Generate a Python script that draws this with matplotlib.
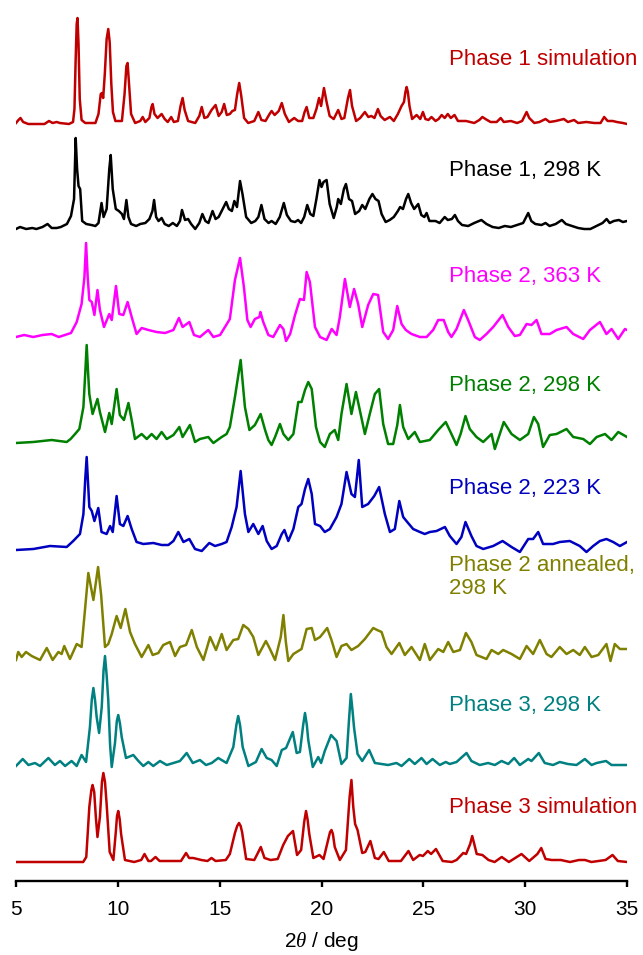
import matplotlib.pyplot as plt

plt.rcParams['font.family'] = ['Liberation Sans', 'DejaVu Sans']
plt.rcParams['mathtext.fontset'] = 'custom'
plt.rcParams['mathtext.rm'] = 'Liberation Sans'
plt.rcParams['mathtext.it'] = 'Liberation Serif:italic'

# Powder patterns: (2theta in deg, intensity in a.u.), baseline at 0
phase1_sim = [
    (5.0, 1), (5.12, 4), (5.22, 6), (5.35, 2), (5.6, 0), (6.4, 0), (6.62, 3), (6.8, 1),
    (7.0, 2), (7.15, 1), (7.6, 0), (7.8, 2), (7.87, 15), (7.93, 65), (7.98, 100),
    (8.02, 106), (8.07, 80), (8.13, 25), (8.22, 4), (8.4, 1), (8.9, 1), (9.05, 10),
    (9.16, 30), (9.22, 31), (9.28, 26), (9.36, 50), (9.45, 85), (9.53, 95), (9.6, 82),
    (9.68, 40), (9.76, 12), (9.88, 3), (10.2, 3), (10.33, 30), (10.42, 58), (10.48, 61),
    (10.55, 40), (10.65, 10), (10.85, 1), (11.1, 3), (11.22, 7), (11.35, 2), (11.55, 6),
    (11.65, 17), (11.71, 20), (11.8, 10), (11.95, 6), (12.15, 10), (12.3, 5), (12.45, 2),
    (12.62, 7), (12.75, 2), (12.95, 3), (13.08, 18), (13.18, 26), (13.28, 14), (13.45, 3),
    (13.8, 1), (14.0, 8), (14.12, 17), (14.25, 6), (14.4, 7), (14.6, 14), (14.8, 19),
    (14.95, 8), (15.1, 12), (15.22, 20), (15.35, 9), (15.5, 10), (15.62, 13), (15.75, 14),
    (15.86, 30), (15.96, 41), (16.06, 28), (16.2, 6), (16.4, 1), (16.7, 3), (16.9, 12),
    (17.05, 4), (17.25, 3), (17.45, 10), (17.55, 13), (17.7, 9), (17.9, 13), (18.05, 21),
    (18.2, 10), (18.4, 2), (18.66, 6), (18.85, 3), (19.05, 3), (19.17, 12), (19.27, 17),
    (19.4, 6), (19.6, 6), (19.75, 15), (19.88, 26), (19.98, 18), (20.12, 36),
    (20.25, 22), (20.4, 8), (20.6, 5), (20.82, 14), (20.98, 5), (21.12, 6), (21.3, 26),
    (21.4, 34), (21.5, 18), (21.7, 3), (21.9, 6), (22.13, 12), (22.3, 7), (22.45, 8),
    (22.6, 6), (22.77, 15), (22.9, 8), (23.1, 4), (23.36, 7), (23.55, 3), (23.75, 10),
    (23.93, 18), (24.05, 22), (24.12, 32), (24.18, 37), (24.24, 32), (24.32, 18),
    (24.45, 5), (24.67, 9), (24.85, 5), (24.98, 12), (25.1, 5), (25.25, 4), (25.4, 7),
    (25.6, 3), (25.75, 5), (25.9, 9), (26.05, 6), (26.2, 10), (26.35, 6), (26.53, 9),
    (26.7, 3), (27.1, 3), (27.5, 1), (27.75, 4), (27.9, 7), (28.05, 5), (28.3, 2),
    (28.6, 2), (28.8, 6), (28.95, 2), (29.3, 3), (29.6, 1), (29.85, 3), (30.0, 9),
    (30.07, 12), (30.2, 6), (30.45, 1), (30.7, 2), (31.0, 5), (31.2, 2), (31.5, 3),
    (31.9, 5), (32.1, 2), (32.4, 4), (32.6, 1), (33.0, 2), (33.4, 1), (33.7, 1),
    (33.88, 7), (34.05, 3), (34.3, 3), (34.5, 2), (34.8, 1), (35.0, 0),
]

phase1_298 = [
    (5.0, 0), (5.2, 2), (5.5, 0), (5.8, 1), (6.0, 0), (6.3, 2), (6.55, 5), (6.75, 1),
    (7.0, 1), (7.2, 2), (7.5, 5), (7.7, 13), (7.85, 30), (7.93, 91), (8.0, 60),
    (8.07, 43), (8.15, 40), (8.25, 8), (8.45, 5), (8.7, 4), (8.9, 3), (9.05, 6),
    (9.2, 26), (9.3, 12), (9.45, 20), (9.58, 60), (9.65, 74), (9.75, 40), (9.9, 20),
    (10.05, 18), (10.2, 15), (10.3, 10), (10.42, 29), (10.52, 12), (10.65, 5), (10.9, 3),
    (11.1, 5), (11.35, 6), (11.55, 10), (11.7, 18), (11.78, 29), (11.88, 12), (12.0, 8),
    (12.15, 11), (12.3, 5), (12.5, 3), (12.7, 6), (12.9, 3), (13.05, 8), (13.15, 19),
    (13.3, 9), (13.45, 10), (13.6, 5), (13.8, 0), (14.0, 6), (14.15, 15), (14.3, 8),
    (14.45, 6), (14.65, 18), (14.8, 10), (14.95, 12), (15.2, 22), (15.32, 27),
    (15.45, 20), (15.6, 18), (15.72, 28), (15.85, 22), (16.0, 48), (16.12, 35),
    (16.3, 12), (16.55, 6), (16.75, 8), (16.9, 12), (17.05, 24), (17.2, 10), (17.4, 6),
    (17.55, 8), (17.75, 5), (17.95, 12), (18.15, 26), (18.3, 14), (18.5, 8), (18.7, 7),
    (18.85, 9), (19.0, 6), (19.15, 12), (19.3, 24), (19.45, 15), (19.6, 13), (19.75, 30),
    (19.9, 49), (20.0, 42), (20.1, 47), (20.25, 49), (20.4, 25), (20.6, 11), (20.75, 22),
    (20.82, 30), (20.95, 25), (21.1, 40), (21.2, 45), (21.35, 30), (21.5, 28),
    (21.65, 15), (21.85, 18), (22.0, 24), (22.15, 20), (22.35, 30), (22.5, 35),
    (22.65, 30), (22.8, 28), (22.95, 15), (23.15, 7), (23.35, 9), (23.55, 12),
    (23.75, 18), (23.86, 22), (24.0, 20), (24.15, 30), (24.26, 35), (24.4, 26),
    (24.55, 20), (24.75, 25), (24.9, 14), (25.05, 12), (25.16, 16), (25.3, 8), (25.6, 8),
    (25.8, 6), (26.05, 12), (26.2, 9), (26.4, 10), (26.55, 14), (26.7, 8), (26.9, 4),
    (27.2, 3), (27.5, 6), (27.85, 9), (28.1, 5), (28.4, 2), (28.7, 1), (29.0, 3),
    (29.3, 2), (29.6, 4), (29.9, 6), (30.05, 12), (30.15, 16), (30.3, 8), (30.5, 5),
    (30.8, 4), (31.0, 6), (31.2, 3), (31.5, 5), (31.8, 9), (32.0, 5), (32.3, 3),
    (32.6, 1), (32.9, 0), (33.2, 0), (33.5, 3), (33.8, 6), (34.0, 10), (34.15, 6),
    (34.35, 8), (34.6, 9), (34.8, 7), (35.0, 8),
]

phase2_363 = [
    (5.0, 0), (5.4, 2), (5.85, 0), (6.3, 2), (6.75, 3), (7.1, 0), (7.4, 2), (7.7, 4),
    (7.98, 15), (8.22, 33), (8.36, 60), (8.44, 94), (8.52, 60), (8.6, 37), (8.72, 35),
    (8.85, 22), (9.0, 47), (9.12, 27), (9.32, 10), (9.58, 23), (9.7, 17), (9.91, 51),
    (10.07, 23), (10.27, 22), (10.48, 35), (10.68, 20), (10.92, 3), (11.17, 9),
    (11.5, 7), (11.9, 5), (12.32, 4), (12.73, 7), (13.0, 19), (13.18, 10), (13.51, 15),
    (13.74, 2), (14.03, 0), (14.44, 7), (14.69, 0), (15.02, 2), (15.26, 10), (15.5, 18),
    (15.75, 57), (16.0, 79), (16.19, 50), (16.36, 17), (16.52, 10), (16.73, 18),
    (16.95, 20), (17.0, 25), (17.14, 15), (17.39, 2), (17.63, 0), (17.96, 12),
    (18.13, 8), (18.26, -4), (18.46, 3), (18.7, 22), (18.94, 38), (19.14, 37),
    (19.27, 65), (19.43, 55), (19.68, 10), (19.93, 0), (20.25, -3), (20.5, 8),
    (20.74, 2), (20.9, 20), (21.15, 58), (21.39, 30), (21.6, 48), (21.8, 33), (22.0, 10),
    (22.29, 32), (22.54, 43), (22.78, 42), (23.03, 5), (23.27, -2), (23.52, 7),
    (23.72, 31), (23.93, 13), (24.14, 7), (24.42, 3), (24.83, 0), (25.16, 0), (25.48, 7),
    (25.73, 17), (26.0, 17), (26.22, 5), (26.38, 0), (26.63, 8), (26.99, 27), (27.2, 17),
    (27.53, 0), (27.77, -3), (28.1, 3), (28.43, 10), (28.89, 22), (29.17, 10),
    (29.49, 1), (29.74, 2), (30.07, 13), (30.31, 12), (30.56, 17), (30.8, 3), (31.21, 3),
    (31.54, 7), (32.03, 10), (32.36, 3), (32.85, -2), (33.18, 7), (33.67, 15),
    (33.99, 3), (34.24, 8), (34.57, -2), (34.9, 8), (35.0, 7),
]

phase2_298 = [
    (5.0, 0), (5.85, 1), (6.75, 3), (7.49, 1), (7.68, 4), (7.9, 9), (8.11, 14),
    (8.31, 36), (8.4, 70), (8.47, 98), (8.54, 70), (8.6, 49), (8.76, 29), (9.0, 44),
    (9.12, 31), (9.37, 11), (9.58, 30), (9.7, 19), (9.94, 54), (10.1, 28), (10.3, 23),
    (10.52, 40), (10.68, 23), (10.84, 4), (11.17, 9), (11.42, 4), (11.66, 9), (11.9, 4),
    (12.15, 11), (12.4, 4), (12.73, 8), (13.02, 16), (13.18, 6), (13.54, 18), (13.79, 1),
    (14.03, 4), (14.44, 6), (14.69, 0), (15.1, 6), (15.34, 9), (15.5, 16), (15.75, 46),
    (16.03, 83), (16.24, 36), (16.46, 13), (16.73, 18), (17.01, 29), (17.23, 13),
    (17.39, 3), (17.55, -2), (17.72, 6), (17.96, 19), (18.13, 9), (18.37, 3), (18.62, 9),
    (18.86, 41), (19.02, 41), (19.19, 53), (19.35, 61), (19.52, 54), (19.73, 16),
    (19.93, 1), (20.16, -4), (20.41, 9), (20.65, 13), (20.82, 3), (20.98, 29),
    (21.23, 59), (21.47, 29), (21.69, 51), (21.88, 33), (22.13, 9), (22.37, 29),
    (22.62, 49), (22.83, 54), (23.03, 19), (23.27, -1), (23.52, -1), (23.72, 18),
    (23.85, 38), (24.01, 16), (24.26, 4), (24.58, 11), (24.83, 1), (25.32, 3),
    (25.73, 13), (26.1, 21), (26.38, 9), (26.63, -2), (26.83, 9), (27.07, 27),
    (27.28, 14), (27.61, 6), (27.94, 1), (28.35, 9), (28.51, -6), (28.95, 21),
    (29.33, 9), (29.74, 3), (30.15, 9), (30.43, 26), (30.64, 19), (30.88, -4),
    (31.21, 8), (31.54, 9), (32.03, 14), (32.36, 6), (32.85, 4), (33.18, -1), (33.51, 6),
    (33.92, 9), (34.24, 3), (34.57, 11), (35.0, 6),
]

phase2_223 = [
    (5.0, -1), (5.85, 0), (6.67, 3), (7.49, 2), (7.81, 8), (8.14, 15), (8.31, 35),
    (8.4, 70), (8.47, 92), (8.54, 65), (8.6, 42), (8.72, 38), (8.85, 28), (9.04, 41),
    (9.2, 17), (9.45, 15), (9.62, 23), (9.75, 17), (9.94, 53), (10.1, 25), (10.27, 23),
    (10.48, 33), (10.68, 20), (10.92, 7), (11.25, 5), (11.74, 6), (12.15, 4), (12.48, 4),
    (12.73, 8), (12.97, 17), (13.22, 7), (13.51, 10), (13.79, 0), (14.12, -2),
    (14.49, 6), (14.77, 3), (15.1, 5), (15.34, 7), (15.59, 22), (15.83, 42), (16.03, 78),
    (16.24, 35), (16.41, 17), (16.65, 25), (16.9, 15), (17.11, 23), (17.31, 8),
    (17.55, 0), (17.8, 3), (18.05, 15), (18.18, 19), (18.37, 8), (18.62, 20),
    (18.86, 42), (19.02, 45), (19.19, 60), (19.35, 70), (19.52, 55), (19.68, 25),
    (19.93, 23), (20.16, 17), (20.41, 20), (20.74, 32), (20.98, 45), (21.23, 77),
    (21.47, 55), (21.64, 52), (21.83, 89), (22.0, 42), (22.29, 45), (22.59, 53),
    (22.83, 62), (23.11, 35), (23.36, 17), (23.6, 20), (23.82, 48), (24.01, 32),
    (24.21, 27), (24.5, 20), (24.83, 17), (25.07, 15), (25.32, 17), (25.65, 18),
    (26.06, 22), (26.3, 13), (26.63, 5), (26.87, 12), (27.07, 27), (27.36, 13),
    (27.61, 3), (27.94, 0), (28.43, 3), (28.89, 8), (29.33, 2), (29.74, -3), (30.15, 10),
    (30.39, 10), (30.64, 17), (30.88, 5), (31.37, 5), (31.7, 7), (32.19, 8), (32.68, 3),
    (33.01, -3), (33.34, 3), (33.67, 8), (33.99, 10), (34.32, 7), (34.65, 3), (35.0, 7),
]

phase2_annealed = [
    (5.0, -3), (5.11, 5), (5.28, 0), (5.49, 5), (5.77, 1), (6.18, -3), (6.51, 9),
    (6.8, -3), (7.08, 5), (7.24, 3), (7.37, 11), (7.65, -2), (7.98, 13), (8.22, 10),
    (8.4, 50), (8.55, 84), (8.8, 57), (9.03, 90), (9.18, 62), (9.37, 10), (9.53, 13),
    (9.7, 23), (9.94, 41), (10.14, 29), (10.37, 48), (10.6, 25), (10.84, 13), (11.17, 0),
    (11.5, 12), (11.71, 2), (11.99, 4), (12.23, 12), (12.56, 15), (12.81, 1), (13.05, 10),
    (13.35, 12), (13.63, 27), (13.88, 10), (14.2, -3), (14.53, 20), (14.82, 7),
    (15.1, 23), (15.34, 7), (15.67, 17), (15.91, 18), (16.16, 32), (16.41, 28),
    (16.65, 20), (16.9, 2), (17.27, 16), (17.47, 8), (17.72, -3), (18.0, 20), (18.13, 42),
    (18.25, 15), (18.37, -4), (18.62, 3), (19.02, 8), (19.27, 28), (19.52, 29),
    (19.68, 17), (19.93, 20), (20.28, 29), (20.49, 17), (20.74, 0), (20.98, 11),
    (21.23, 13), (21.47, 7), (21.8, 11), (22.13, 18), (22.54, 29), (22.73, 27),
    (22.95, 25), (23.19, 10), (23.44, 3), (23.82, 14), (24.09, 2), (24.42, 10),
    (24.83, -3), (25.07, 13), (25.32, -3), (25.73, 8), (25.98, 5), (26.22, 15),
    (26.47, 5), (26.8, 7), (27.09, 24), (27.36, 15), (27.61, 2), (27.86, 0), (28.1, -2),
    (28.35, 7), (28.68, 3), (28.92, 7), (29.33, 3), (29.74, -2), (30.07, 11), (30.39, 3),
    (30.72, 17), (31.05, 3), (31.29, 0), (31.7, 10), (32.03, 3), (32.36, 7), (32.68, 2),
    (32.93, 10), (33.26, 0), (33.59, 2), (33.99, 13), (34.19, -4), (34.4, 13),
    (34.65, 8), (35.0, 8),
]

phase3_298 = [
    (5.0, -1), (5.33, 6), (5.61, 0), (5.93, 2), (6.18, -1), (6.59, 7), (6.91, 0),
    (7.16, 4), (7.41, -1), (7.73, 4), (7.98, -1), (8.22, 10), (8.44, 3), (8.63, 38),
    (8.72, 65), (8.8, 77), (8.88, 65), (8.96, 48), (9.08, 32), (9.21, 58), (9.3, 95),
    (9.37, 109), (9.45, 90), (9.53, 65), (9.62, 20), (9.7, -2), (9.86, 22), (9.95, 44),
    (10.02, 50), (10.1, 42), (10.19, 28), (10.4, 7), (10.76, 10), (11.01, 4), (11.25, -1),
    (11.5, 3), (11.74, -1), (12.07, 4), (12.4, 0), (12.73, 2), (13.05, 4), (13.38, 12),
    (13.68, 2), (14.03, 5), (14.33, 0), (14.61, 2), (14.93, 7), (15.34, 2), (15.67, 18),
    (15.82, 40), (15.91, 49), (16.0, 40), (16.13, 18), (16.41, -1), (16.78, 3),
    (17.06, 16), (17.31, 7), (17.55, 5), (17.8, -1), (18.05, 15), (18.26, 17),
    (18.59, 33), (18.78, 12), (18.94, 13), (19.1, 40), (19.19, 52), (19.28, 40),
    (19.35, 25), (19.57, -2), (19.84, 8), (19.98, 2), (20.16, 14), (20.47, 30),
    (20.74, 24), (20.98, 1), (21.23, 7), (21.35, 45), (21.44, 71), (21.52, 55),
    (21.6, 37), (21.77, 11), (22.0, 4), (22.34, 15), (22.62, 2), (22.95, 1), (23.27, 0),
    (23.68, 2), (23.93, -1), (24.31, 6), (24.58, 1), (24.91, 7), (25.16, 1), (25.45, 6),
    (25.81, 0), (26.1, 3), (26.3, 1), (26.63, 3), (27.12, 12), (27.36, 4), (27.77, 0),
    (28.18, 2), (28.51, 0), (28.84, 4), (29.17, 1), (29.46, 7), (29.74, 0), (30.15, 6),
    (30.31, 4), (30.67, 12), (30.96, 2), (31.37, 0), (31.7, 3), (32.1, 1), (32.52, 0),
    (32.93, 6), (33.26, 0), (33.51, 2), (33.97, 4), (34.24, 0), (34.65, 0), (35.0, 0),
]

phase3_sim = [
    (5.0, 0), (8.3, 0), (8.45, 5), (8.6, 55), (8.7, 72), (8.76, 77), (8.84, 70),
    (8.92, 45), (9.0, 25), (9.12, 45), (9.22, 80), (9.29, 89), (9.37, 80), (9.45, 58),
    (9.6, 10), (9.78, 2), (9.9, 30), (9.96, 46), (10.02, 51), (10.09, 43), (10.16, 28),
    (10.35, 2), (10.8, 0), (11.15, 2), (11.31, 8), (11.5, 1), (11.63, 1), (11.85, 5),
    (12.05, 1), (12.5, 1), (13.1, 1), (13.35, 9), (13.5, 4), (13.7, 4), (14.1, 2),
    (14.4, 1), (14.6, 4), (14.8, 1), (15.3, 2), (15.5, 8), (15.75, 29), (15.86, 36),
    (15.95, 39), (16.03, 36), (16.1, 30), (16.3, 3), (16.7, 2), (16.9, 10), (17.02, 15),
    (17.2, 4), (17.5, 2), (17.85, 3), (18.12, 17), (18.35, 26), (18.6, 31), (18.8, 7),
    (19.0, 12), (19.15, 40), (19.24, 51), (19.32, 42), (19.4, 28), (19.6, 4), (19.9, 7),
    (20.1, 3), (20.3, 20), (20.42, 30), (20.49, 32), (20.56, 28), (20.65, 15), (20.9, 2),
    (21.2, 12), (21.38, 65), (21.47, 82), (21.56, 55), (21.65, 38), (21.77, 32),
    (22.0, 9), (22.15, 10), (22.4, 21), (22.62, 4), (22.8, 3), (23.06, 10), (23.3, 1),
    (23.9, 1), (24.27, 11), (24.5, 2), (24.82, 7), (24.98, 6), (25.22, 11), (25.38, 8),
    (25.62, 13), (25.95, 1), (26.4, 0), (26.63, 2), (26.96, 9), (27.1, 8), (27.3, 18),
    (27.4, 26), (27.5, 18), (27.62, 8), (27.9, 7), (28.2, 2), (28.5, 0), (28.85, 5),
    (29.2, 0), (29.82, 8), (30.2, 1), (30.6, 8), (30.79, 14), (31.0, 3), (31.3, 2),
    (31.75, 2), (32.2, 0), (32.64, 2), (32.94, 2), (33.25, 0), (33.95, 2), (34.29, 7),
    (34.55, 1), (35.0, 0),
]

patterns = [phase1_sim, phase1_298, phase2_363, phase2_298,
            phase2_223, phase2_annealed, phase3_298, phase3_sim]
labels = ["Phase 1 simulation", "Phase 1, 298 K", "Phase 2, 363 K", "Phase 2, 298 K",
          "Phase 2, 223 K", "Phase 2 annealed,\n298 K", "Phase 3, 298 K",
          "Phase 3 simulation"]
colors = ["#c00000", "black", "#ff00ff", "#008000",
          "#0000c0", "#808000", "#008080", "#c00000"]

# vertical stacking of the traces and where each caption sits
offsets = [738, 633, 525, 419, 313, 205, 97, 0]
label_x = 26.26
label_y = [797, 686, 580, 471, 368, 268, 151, 49]

fig = plt.figure(figsize=(6.43, 9.55), dpi=100)
ax = fig.add_axes([16 / 643, 74 / 955, 611 / 643, 881 / 955])

for pat, off, col, lab, ly in zip(patterns, offsets, colors, labels, label_y):
    tt = [p[0] for p in pat]
    inten = [p[1] + off for p in pat]
    ax.plot(tt, inten, color=col, lw=1.8, solid_joinstyle='round')
    ax.text(label_x, ly, lab, color=col, fontsize=16, ha='left', va='baseline',
            linespacing=1.1)

ax.set_xlim(5, 35)
ax.set_ylim(-19, 862)
ax.set_xticks([5, 10, 15, 20, 25, 30, 35])
ax.set_yticks([])
for side in ['left', 'right', 'top']:
    ax.spines[side].set_visible(False)
ax.spines['bottom'].set_linewidth(1.7)
ax.tick_params(axis='x', direction='out', length=4.5, width=1.7, labelsize=15, pad=9)
ax.set_xlabel(r"2$\mathit{\theta}$ / deg", fontsize=15, labelpad=8)
ax.patch.set_visible(False)

fig.savefig("out.png", dpi=100)
